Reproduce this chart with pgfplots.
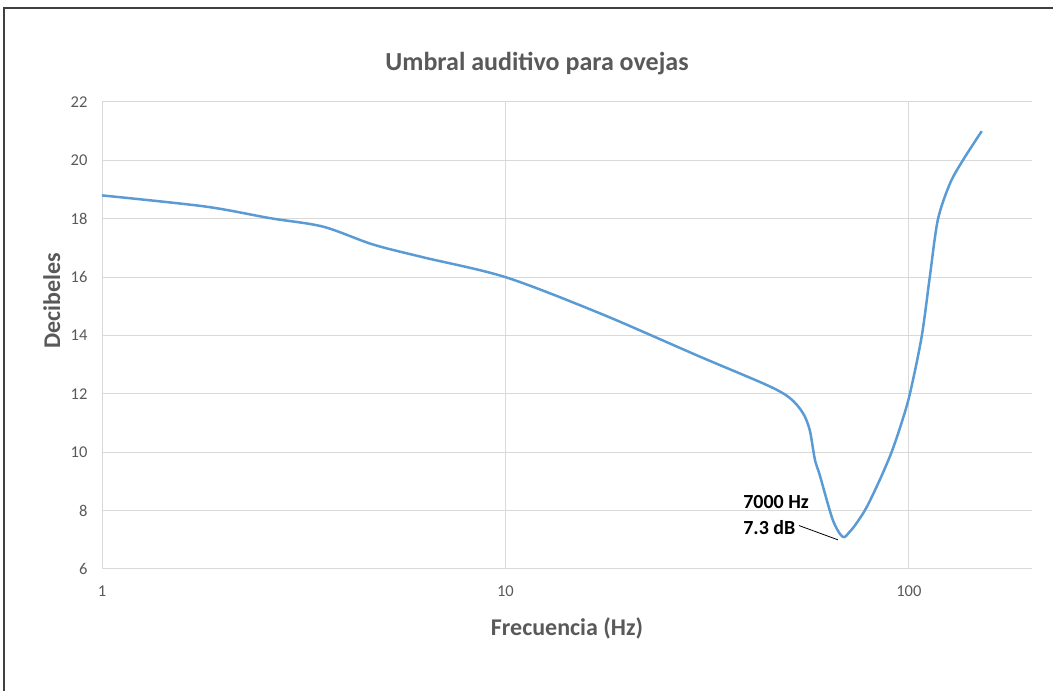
\documentclass[border=0pt]{standalone}
\usepackage{pgfplots}
\pgfplotsset{compat=1.18}
\usepackage{fontspec}
\setmainfont{Carlito}
\definecolor{txtgray}{HTML}{595959}
\definecolor{gridgray}{HTML}{D9D9D9}
\definecolor{lineblue}{HTML}{5B9BD5}
\definecolor{framegray}{HTML}{404040}
\begin{document}
\begin{tikzpicture}
\path[use as bounding box] (0pt,0pt) rectangle (1053pt,691pt);
\draw[framegray, line width=2pt] (4pt,0pt) -- (4pt,683pt) -- (1053pt,683pt);
\node[font=\fontsize{26}{30}\selectfont\bfseries, text=txtgray] at (537pt,627pt) {Umbral auditivo para ovejas};
\begin{axis}[
  at={(102pt,122pt)}, anchor=south west,
  scale only axis, width=930pt, height=467pt,
  xmode=log, xmin=1, xmax=202, ymin=6, ymax=22,
  ytick={6,8,...,22},
  xtick={1,10,100}, xticklabels={1,10,100},
  grid=major, major grid style={gridgray, line width=1pt},
  axis line style={draw=none},
  tick style={draw=none},
  ticklabel style={font=\fontsize{16.5}{18}\selectfont, text=txtgray},
  yticklabel style={xshift=-11pt},
  xticklabel style={yshift=-13pt},
  /pgf/number format/assume math mode=true,
  xlabel={Frecuencia (Hz)}, ylabel={Decibeles},
  label style={font=\fontsize{24}{28}\selectfont\bfseries, text=txtgray},
  xlabel style={at={(axis description cs:0.5,-0.127)}, anchor=center},
  ylabel style={at={(axis description cs:-0.054,0.574)}, anchor=center},
  clip=false,
]
\addplot[lineblue, line width=2.5pt, smooth, tension=0.5] coordinates {
  (1,18.8) (1.8,18.42) (2.61,18.02) (3.53,17.73) (4.69,17.12) (6.25,16.68)
  (10,16.0) (17.15,14.76) (30.3,13.28) (44.5,12.3) (50.7,11.86) (54.6,11.35)
  (56.8,10.76) (58.5,9.75) (60.2,9.2) (64.8,7.68) (68.6,7.1) (71.4,7.28)
  (74.2,7.57) (78.5,8.1) (84.7,9.05) (90.6,10.0) (95.9,11.0) (100.6,12.0)
  (107.6,13.96) (112.7,16.0) (118,17.96)
  (126.4,19.2) (136.1,20.0) (151.6,21.0)
};
\draw[black, line width=0.8pt] (axis cs:53.4,7.49) -- (axis cs:66.7,7.0);
\node[anchor=west, font=\fontsize{20}{24}\selectfont\bfseries, text=black] at (axis cs:38.1,8.31) {7000 Hz};
\node[anchor=west, font=\fontsize{20}{24}\selectfont\bfseries, text=black] at (axis cs:38.1,7.42) {7.3 dB};
\end{axis}
\end{tikzpicture}
\end{document}
